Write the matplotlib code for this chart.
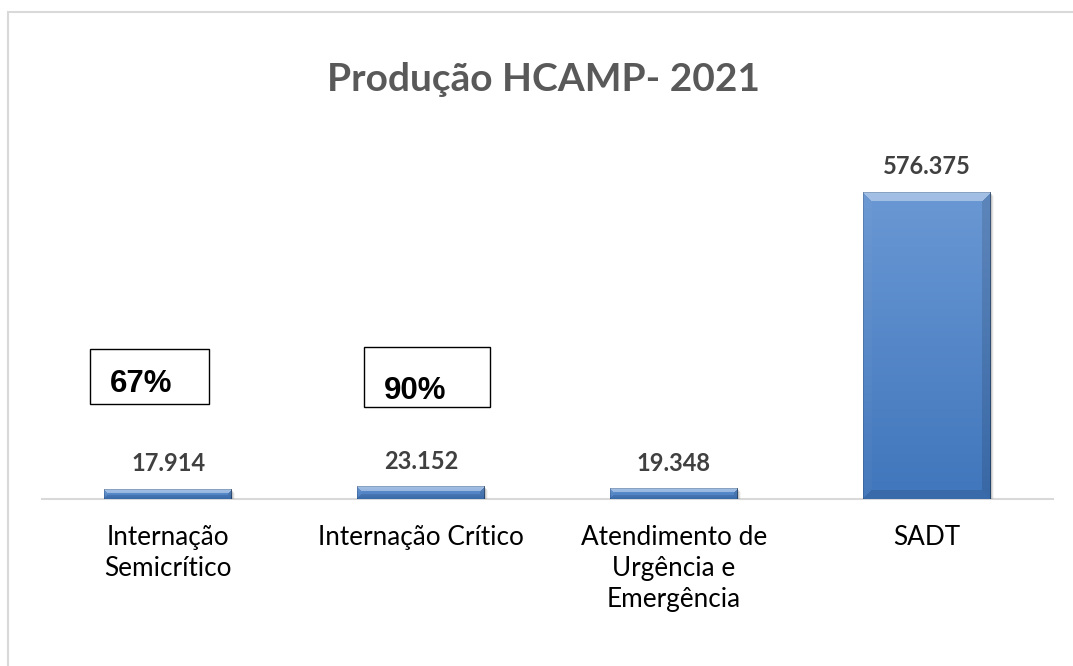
import numpy as np
import matplotlib
matplotlib.use('Agg')
import matplotlib.pyplot as plt
from matplotlib.patches import Rectangle
import matplotlib.transforms as mtransforms

# ---- data ----
categories = ["Internação\nSemicrítico", "Internação Crítico",
              "Atendimento de\nUrgência e\nEmergência", "SADT"]
values = [17914, 23152, 19348, 576375]
value_labels = ["17.914", "23.152", "19.348", "576.375"]
title = "Produção HCAMP- 2021"
pct_labels = ["67%", "90%"]

W, H = 1073, 666
fig = plt.figure(figsize=(W / 100, H / 100), dpi=100)
fig.patch.set_facecolor('white')

# outer chart-area border (left and top visible)
fig.patches.append(Rectangle((8 / W, -0.1), 1.2, (H - 12) / H + 0.1,
                             transform=fig.transFigure, fill=False,
                             edgecolor='#D9D9D9', linewidth=1.5))

base_px = 499
top_px = 150
ax = fig.add_axes([42 / W, (H - base_px) / H, 1011 / W, (base_px - top_px) / H])
x = np.arange(len(categories))
ymax = values[3] * (base_px - top_px) / (base_px - 192)
ax.set_xlim(-0.5, len(categories) - 0.5)
ax.set_ylim(0, ymax)

bars = ax.bar(x, values, width=0.506, color='none', edgecolor='none', zorder=3)

for s in ['top', 'left', 'right']:
    ax.spines[s].set_visible(False)
ax.spines['bottom'].set_color('#D9D9D9')
ax.spines['bottom'].set_linewidth(1.5)
ax.spines['bottom'].set_zorder(1)
ax.set_yticks([])
ax.set_xticks(x)
ax.set_xticklabels(categories, fontsize=18.8, family='Lato', color='#000000',
                   linespacing=1.3)
ax.tick_params(axis='x', length=0, pad=19)

# bevelled gradient bars
c_top = np.array([106, 152, 212]) / 255
c_bot = np.array([64, 118, 188]) / 255
shadow_off = mtransforms.ScaledTranslation(1.5 / 100, -2.5 / 100, fig.dpi_scale_trans)
for rect in bars:
    bx, bw, bh = rect.get_x(), rect.get_width(), rect.get_height()
    (X0, Y0), (X1, Y1) = ax.transData.transform([(bx, 0), (bx + bw, bh)])
    w = max(int(round(X1 - X0)), 2)
    h = max(int(round(Y1 - Y0)), 2)
    t = np.linspace(0, 1, h)[:, None]
    img = c_top[None, None, :] * (1 - t[..., None]) + c_bot[None, None, :] * t[..., None]
    img = np.repeat(img, w, axis=1)
    r = np.arange(h)[:, None] * np.ones((1, w))
    c = np.ones((h, 1)) * np.arange(w)[None, :]
    b = min(9.0, h / 2.6)
    dt, db, dl, dr = r, h - 1 - r, c, w - 1 - c
    dmin = np.minimum(np.minimum(dt, db), np.minimum(dl, dr))
    inb = dmin < b
    top = inb & (dt == dmin)
    bot = inb & (db == dmin) & ~top
    lft = inb & (dl == dmin) & ~top & ~bot
    rgt = inb & (dr == dmin) & ~top & ~bot & ~lft
    img[top] = img[top] * 0.62 + 0.38
    img[bot] = img[bot] * 0.9
    img[lft] = img[lft] * 0.96 + 0.03
    img[rgt] = img[rgt] * 0.88
    img[:, -1] = img[:, -1] * 0.65
    img[:, 0] = img[:, 0] * 0.85
    img[0, :] = img[0, :] * 0.85
    for k, a in enumerate([0.28, 0.16, 0.08]):
        off = mtransforms.ScaledTranslation((1 + k) / 100, -(1.5 + k) / 100,
                                            fig.dpi_scale_trans)
        ax.add_patch(Rectangle((bx, 0), bw, bh, facecolor='#808080', alpha=a,
                               edgecolor='none', zorder=2,
                               transform=ax.transData + off))
    ax.imshow(np.clip(img, 0, 1), extent=(bx, bx + bw, 0, bh), origin='upper',
              aspect='auto', interpolation='nearest', zorder=3)

ax.set_xlim(-0.5, len(categories) - 0.5)
ax.set_ylim(0, ymax)

for i, (v, lbl) in enumerate(zip(values, value_labels)):
    ax.annotate(lbl, (x[i], v), xytext=(0, 13), textcoords='offset points',
                ha='center', va='baseline', fontsize=17, fontweight='bold',
                family='Lato', color='#404040')

fig.text(543 / W, 1 - 91 / H, title, ha='center', va='baseline', fontsize=28,
         fontweight='bold', family='Lato', color='#595959')

# percentage boxes
boxes = [(90, 349, 209, 404), (364, 347, 490, 407)]
txt_pos = [(110, 392), (384, 399)]
for (l, tp, rt, bt), (tx, ty), lab in zip(boxes, txt_pos, pct_labels):
    fig.patches.append(Rectangle((l / W, 1 - bt / H), (rt - l) / W, (bt - tp) / H,
                                 transform=fig.transFigure, fill=False,
                                 edgecolor='black', linewidth=1.0))
    fig.text(tx / W, 1 - ty / H, lab, ha='left', va='baseline', fontsize=22.5,
             fontweight='bold', family='Liberation Sans', color='black')

fig.savefig('out.png', dpi=100, facecolor='white')
